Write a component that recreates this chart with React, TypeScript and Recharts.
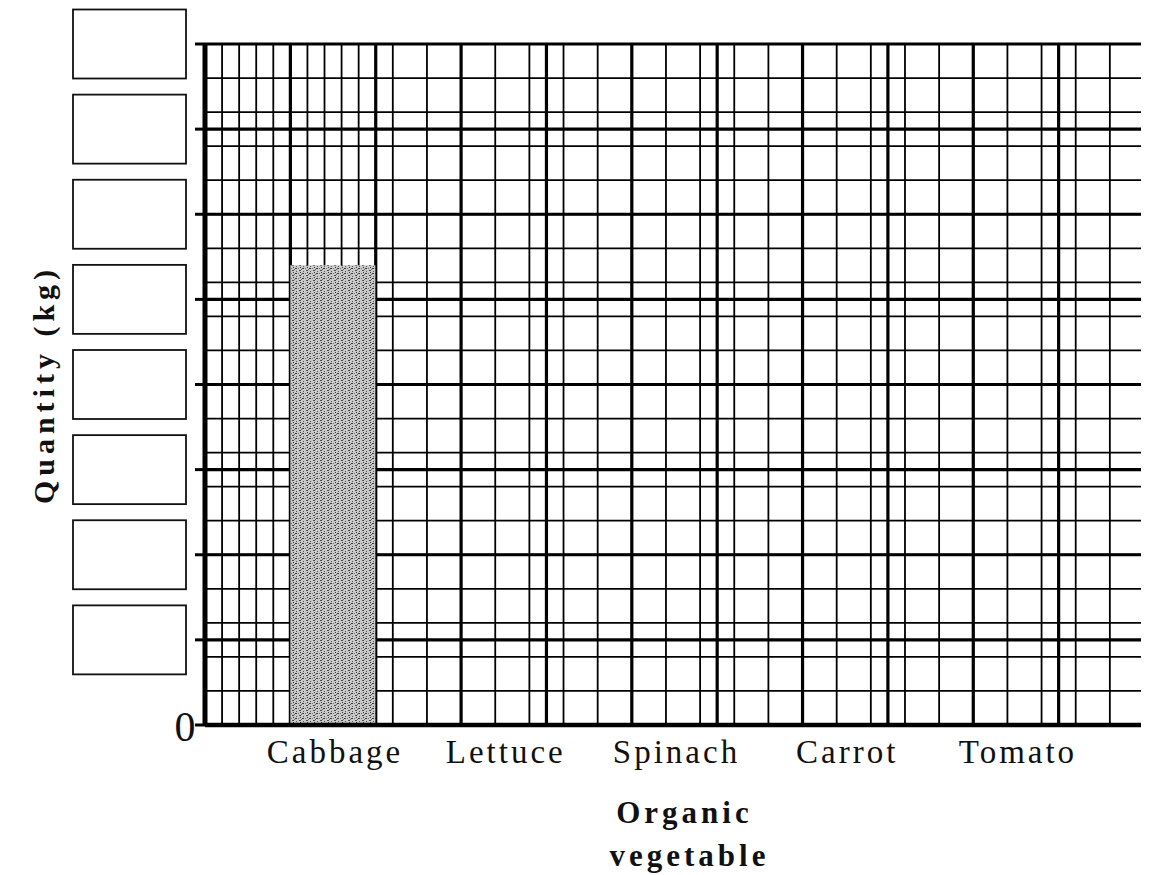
import { Bar, BarChart, CartesianGrid, XAxis, YAxis } from "recharts"

const categories = ["Cabbage", "Lettuce", "Spinach", "Carrot", "Tomato"]
const quantities: (number | null)[] = [27, null, null, null, null]
const yTicks = [0, 5, 10, 15, 20, 25, 30, 35, 40]

// grid paper: 11 columns x 8 rows of big squares, 5 small squares each
const minorX = Array.from({ length: 56 }, (_, i) => i)
const majorX = Array.from({ length: 12 }, (_, i) => i * 5)
const minorY = Array.from({ length: 41 }, (_, i) => i)

const font = "'Liberation Serif', 'Times New Roman', serif"

// vegetables sit in every second column, with a blank column before each
const data: { id: string; label: string; qty: number | null; col: number }[] = []
for (let i = 0; i < 11; i++) {
  const k = (i - 1) / 2
  const isVeg = i % 2 === 1
  data.push({
    id: "c" + i,
    label: isVeg ? categories[k] : "",
    qty: isVeg ? quantities[k] : null,
    col: i * 5 + 2.5,
  })
}

function XTick(props: any) {
  const { x, y, payload } = props
  const row = data.find((d) => d.id === payload.value)
  if (!row || !row.label) return null
  return (
    <text x={x + 2} y={y} dy={38} textAnchor="middle" fontFamily={font} fontSize={33} letterSpacing={3} fill="#111">
      {row.label}
    </text>
  )
}

function YTick(props: any) {
  const { x, y, payload } = props
  if (payload.value === 0) {
    return (
      <text x={x - 10} y={y} dy={16} textAnchor="middle" fontFamily={font} fontSize={42} fill="#111">
        0
      </text>
    )
  }
  // empty box for the student to write the scale in
  return <rect x={x - 122} y={y - 34.5} width={113} height={69} fill="#fff" stroke="#111" strokeWidth={1.8} />
}

export default function App() {
  return (
    <div style={{ width: 1141, height: 867, fontFamily: font }}>
      <BarChart
        width={1141}
        height={867}
        data={data}
        margin={{ top: 36, right: 5, bottom: 0, left: 0 }}
        barCategoryGap={0}
        barGap={0}
      >
        <defs>
          <pattern id="stipple" width="7" height="5" patternUnits="userSpaceOnUse">
            <rect width="7" height="5" fill="#c9c9c9" />
            <rect x="0" y="0" width="2" height="1" fill="#3a3a3a" />
            <rect x="4" y="2" width="2" height="1" fill="#4a4a4a" />
            <rect x="1" y="3" width="1" height="1" fill="#555" />
            <rect x="5" y="4" width="1" height="1" fill="#333" />
            <rect x="3" y="0" width="1" height="1" fill="#777" />
            <rect x="6" y="1" width="1" height="1" fill="#666" />
          </pattern>
        </defs>

        <XAxis xAxisId="mx" type="number" dataKey="col" domain={[0, 55]} ticks={minorX} allowDataOverflow hide />
        <XAxis xAxisId="Mx" type="number" dataKey="col" domain={[0, 55]} ticks={majorX} allowDataOverflow hide />
        <YAxis yAxisId="my" type="number" domain={[0, 40]} ticks={minorY} allowDataOverflow hide />

        <CartesianGrid xAxisId="mx" yAxisId="my" stroke="#000" strokeWidth={1.8} />
        <CartesianGrid xAxisId="Mx" yAxisId={0} stroke="#000" strokeWidth={3.2} />

        <XAxis
          dataKey="id"
          height={150}
          interval={0}
          tick={<XTick />}
          tickLine={false}
          tickSize={0}
          tickMargin={0}
          axisLine={{ stroke: "#000", strokeWidth: 4.5 }}
          label={{
            content: (p: any) => {
              const vb = p.viewBox
              const cx = vb.x + vb.width / 2 + 12
              return (
                <g fontFamily={font} fontWeight="bold" fontSize={31} fill="#111" textAnchor="middle">
                  <text x={cx - 2} y={vb.y + 98} letterSpacing={4}>Organic</text>
                  <text x={cx + 3} y={vb.y + 141} letterSpacing={4}>vegetable</text>
                </g>
              )
            },
          }}
        />
        <YAxis
          type="number"
          domain={[0, 40]}
          ticks={yTicks}
          interval={0}
          width={197}
          tick={<YTick />}
          tickSize={10}
          tickMargin={0}
          tickLine={{ stroke: "#000", strokeWidth: 3 }}
          axisLine={{ stroke: "#000", strokeWidth: 5 }}
          label={{
            content: (p: any) => {
              const vb = p.viewBox
              const cy = vb.y + vb.height / 2
              return (
                <text
                  x={46}
                  y={cy}
                  transform={`rotate(-90, 46, ${cy})`}
                  textAnchor="middle"
                  fontFamily={font}
                  fontWeight="bold"
                  fontSize={30}
                  letterSpacing={5}
                  fill="#111"
                >
                  Quantity (kg)
                </text>
              )
            },
          }}
        />

        <Bar dataKey="qty" fill="url(#stipple)" isAnimationActive={false} />
      </BarChart>
    </div>
  )
}
